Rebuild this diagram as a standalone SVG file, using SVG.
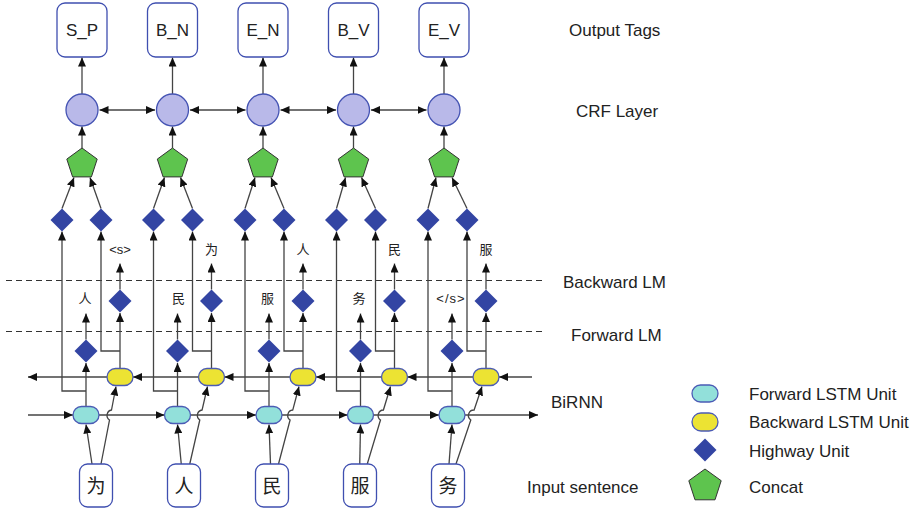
<svg xmlns="http://www.w3.org/2000/svg" xmlns:xlink="http://www.w3.org/1999/xlink" width="924" height="510" viewBox="0 0 924 510">
<defs>
<marker id="ah" viewBox="0 0 9 8" refX="9" refY="4" markerWidth="9" markerHeight="8" markerUnits="userSpaceOnUse" orient="auto-start-reverse"><path d="M0,0 L9,4 L0,8 z" fill="#111"/></marker>
<polygon id="pent" points="0,-16 15.2,-4.9 9.4,12.9 -9.4,12.9 -15.2,-4.9"/>
<polygon id="dia" points="0,-11.5 11.5,0 0,11.5 -11.5,0"/>
<style>
.ln{fill:none;stroke:#444;stroke-width:1.3}
.ar{marker-end:url(#ah)}
.da{marker-start:url(#ah);marker-end:url(#ah)}
.dash{fill:none;stroke:#333;stroke-width:1.2;stroke-dasharray:6 4}
.box{fill:#fff;stroke:#3f4fb0;stroke-width:1.3}
.crf{fill:#b9b9e9;stroke:#4453b3;stroke-width:1.3}
.pen{fill:#5ec44e;stroke:#333;stroke-width:1}
.hw{fill:#3345a3}
.fw{fill:#92e0da;stroke:#4b5bb5;stroke-width:1.3}
.bw{fill:#ece333;stroke:#4b5bb5;stroke-width:1.3}
.t{font-family:"Liberation Sans",Arial,sans-serif;font-size:17px;fill:#222}
.tc{font-family:"Liberation Sans",Arial,sans-serif;font-size:17px;fill:#222;text-anchor:middle}
.s{font-family:"Liberation Sans","Noto Sans CJK SC",sans-serif;font-size:13px;fill:#222;text-anchor:middle}
.cj{font-family:"Noto Sans CJK SC",sans-serif;font-size:19px;fill:#222;text-anchor:middle}
</style>
</defs>
<rect width="924" height="510" fill="#fff"/>

<g id="connectors">
<!-- dashed separators -->
<line class="dash" x1="6" y1="280.5" x2="545" y2="280.5"/>
<line class="dash" x1="6" y1="331.5" x2="545" y2="331.5"/>
<!-- forward LSTM chain -->
<line class="ln ar" x1="28" y1="415" x2="73" y2="415"/>
<line class="ln ar" x1="99" y1="415" x2="164.5" y2="415"/>
<line class="ln ar" x1="190.5" y1="415" x2="256" y2="415"/>
<line class="ln ar" x1="282" y1="415" x2="347.5" y2="415"/>
<line class="ln ar" x1="373.5" y1="415" x2="439" y2="415"/>
<line class="ln ar" x1="465" y1="415" x2="538" y2="415"/>
<!-- backward LSTM chain -->
<line class="ln ar" x1="532" y1="377" x2="499" y2="377"/>
<line class="ln ar" x1="473" y1="377" x2="407.5" y2="377"/>
<line class="ln ar" x1="381.5" y1="377" x2="316" y2="377"/>
<line class="ln ar" x1="290" y1="377" x2="224.5" y2="377"/>
<line class="ln ar" x1="198.5" y1="377" x2="133" y2="377"/>
<line class="ln ar" x1="107" y1="377" x2="28" y2="377"/>
<!-- inputs to LSTMs -->
<line class="ln ar" x1="92" y1="464" x2="86" y2="424.5"/>
<line class="ln ar" x1="181.25" y1="464" x2="177.5" y2="424.5"/>
<line class="ln ar" x1="270.5" y1="464" x2="269" y2="424.5"/>
<line class="ln ar" x1="359.75" y1="464" x2="360.5" y2="424.5"/>
<line class="ln ar" x1="449" y1="464" x2="452" y2="424.5"/>
<path class="ln ar" d="M101,464 L109.5,420 A5.5,5.5 0 0 1 111.5,410 L116,386.5"/>
<path class="ln ar" d="M189.75,464 L199.8,420 A5.5,5.5 0 0 1 202.1,410 L207.5,386.5"/>
<path class="ln ar" d="M278.5,464 L290.1,420 A5.5,5.5 0 0 1 292.8,410 L299,386.5"/>
<path class="ln ar" d="M367.25,464 L380.5,420 A5.5,5.5 0 0 1 383.4,410 L390.5,386.5"/>
<path class="ln ar" d="M456,464 L470.8,420 A5.5,5.5 0 0 1 474.1,410 L482,386.5"/>
<!-- forward LSTM to forward LM highway and top highway -->
<line class="ln ar" x1="86" y1="406.5" x2="86" y2="363"/>
<line class="ln ar" x1="177.5" y1="406.5" x2="177.5" y2="363"/>
<line class="ln ar" x1="269" y1="406.5" x2="269" y2="363"/>
<line class="ln ar" x1="360.5" y1="406.5" x2="360.5" y2="363"/>
<line class="ln ar" x1="452" y1="406.5" x2="452" y2="363"/>
<path class="ln ar" d="M86,391 H62 V231.5"/>
<path class="ln ar" d="M177.5,391 H153.5 V231.5"/>
<path class="ln ar" d="M269,391 H245 V231.5"/>
<path class="ln ar" d="M360.5,391 H336.5 V231.5"/>
<path class="ln ar" d="M452,391 H428 V231.5"/>
<!-- backward LSTM to backward LM highway and top highway -->
<line class="ln ar" x1="120" y1="368.5" x2="120" y2="313"/>
<line class="ln ar" x1="211.5" y1="368.5" x2="211.5" y2="313"/>
<line class="ln ar" x1="303" y1="368.5" x2="303" y2="313"/>
<line class="ln ar" x1="394.5" y1="368.5" x2="394.5" y2="313"/>
<line class="ln ar" x1="486" y1="368.5" x2="486" y2="313"/>
<path class="ln ar" d="M120,351 H101 V231.5"/>
<path class="ln ar" d="M211.5,351 H192.5 V231.5"/>
<path class="ln ar" d="M303,351 H284 V231.5"/>
<path class="ln ar" d="M394.5,351 H375.5 V231.5"/>
<path class="ln ar" d="M486,351 H467 V231.5"/>
<!-- LM predictions -->
<line class="ln ar" x1="86" y1="339.5" x2="86" y2="313.5"/>
<line class="ln ar" x1="177.5" y1="339.5" x2="177.5" y2="313.5"/>
<line class="ln ar" x1="269" y1="339.5" x2="269" y2="313.5"/>
<line class="ln ar" x1="360.5" y1="339.5" x2="360.5" y2="313.5"/>
<line class="ln ar" x1="452" y1="339.5" x2="452" y2="313.5"/>
<line class="ln ar" x1="120" y1="289.5" x2="120" y2="263.5"/>
<line class="ln ar" x1="211.5" y1="289.5" x2="211.5" y2="263.5"/>
<line class="ln ar" x1="303" y1="289.5" x2="303" y2="263.5"/>
<line class="ln ar" x1="394.5" y1="289.5" x2="394.5" y2="263.5"/>
<line class="ln ar" x1="486" y1="289.5" x2="486" y2="263.5"/>
<!-- top highways to concat -->
<line class="ln ar" x1="62" y1="208.5" x2="74" y2="177.5"/>
<line class="ln ar" x1="101" y1="208.5" x2="90" y2="177.5"/>
<line class="ln ar" x1="153.5" y1="208.5" x2="164.5" y2="177.5"/>
<line class="ln ar" x1="192.5" y1="208.5" x2="180.5" y2="177.5"/>
<line class="ln ar" x1="245" y1="208.5" x2="255" y2="177.5"/>
<line class="ln ar" x1="284" y1="208.5" x2="271" y2="177.5"/>
<line class="ln ar" x1="336.5" y1="208.5" x2="345.5" y2="177.5"/>
<line class="ln ar" x1="375.5" y1="208.5" x2="361.5" y2="177.5"/>
<line class="ln ar" x1="428" y1="208.5" x2="436" y2="177.5"/>
<line class="ln ar" x1="467" y1="208.5" x2="452" y2="177.5"/>
<!-- concat to CRF -->
<line class="ln ar" x1="82" y1="148" x2="82" y2="126.5"/>
<line class="ln ar" x1="172.5" y1="148" x2="172.5" y2="126.5"/>
<line class="ln ar" x1="263" y1="148" x2="263" y2="126.5"/>
<line class="ln ar" x1="353.5" y1="148" x2="353.5" y2="126.5"/>
<line class="ln ar" x1="444" y1="148" x2="444" y2="126.5"/>
<!-- CRF to tags -->
<line class="ln ar" x1="82" y1="94" x2="82" y2="57.5"/>
<line class="ln ar" x1="172.5" y1="94" x2="172.5" y2="57.5"/>
<line class="ln ar" x1="263" y1="94" x2="263" y2="57.5"/>
<line class="ln ar" x1="353.5" y1="94" x2="353.5" y2="57.5"/>
<line class="ln ar" x1="444" y1="94" x2="444" y2="57.5"/>
<!-- CRF transitions -->
<line class="ln da" x1="99.5" y1="110" x2="155" y2="110"/>
<line class="ln da" x1="190" y1="110" x2="245.5" y2="110"/>
<line class="ln da" x1="280.5" y1="110" x2="336" y2="110"/>
<line class="ln da" x1="371" y1="110" x2="426.5" y2="110"/>
</g>

<!-- output tags -->
<g id="tag1"><rect class="box" x="57" y="3" width="50" height="54" rx="8"/><text class="tc" x="82" y="36">S_P</text></g>
<g id="tag2"><rect class="box" x="147.5" y="3" width="50" height="54" rx="8"/><text class="tc" x="172.5" y="36">B_N</text></g>
<g id="tag3"><rect class="box" x="238" y="3" width="50" height="54" rx="8"/><text class="tc" x="263" y="36">E_N</text></g>
<g id="tag4"><rect class="box" x="328.5" y="3" width="50" height="54" rx="8"/><text class="tc" x="353.5" y="36">B_V</text></g>
<g id="tag5"><rect class="box" x="419" y="3" width="50" height="54" rx="8"/><text class="tc" x="444" y="36">E_V</text></g>

<!-- CRF nodes -->
<g id="crf1"><circle class="crf" cx="82" cy="110" r="16"/></g>
<g id="crf2"><circle class="crf" cx="172.5" cy="110" r="16"/></g>
<g id="crf3"><circle class="crf" cx="263" cy="110" r="16"/></g>
<g id="crf4"><circle class="crf" cx="353.5" cy="110" r="16"/></g>
<g id="crf5"><circle class="crf" cx="444" cy="110" r="16"/></g>

<!-- concat -->
<g id="concat1"><use href="#pent" class="pen" x="82" y="164"/></g>
<g id="concat2"><use href="#pent" class="pen" x="172.5" y="164"/></g>
<g id="concat3"><use href="#pent" class="pen" x="263" y="164"/></g>
<g id="concat4"><use href="#pent" class="pen" x="353.5" y="164"/></g>
<g id="concat5"><use href="#pent" class="pen" x="444" y="164"/></g>

<!-- top highway units -->
<g id="hwtop1"><use href="#dia" class="hw" x="62" y="220"/><use href="#dia" class="hw" x="101" y="220"/></g>
<g id="hwtop2"><use href="#dia" class="hw" x="153.5" y="220"/><use href="#dia" class="hw" x="192.5" y="220"/></g>
<g id="hwtop3"><use href="#dia" class="hw" x="245" y="220"/><use href="#dia" class="hw" x="284" y="220"/></g>
<g id="hwtop4"><use href="#dia" class="hw" x="336.5" y="220"/><use href="#dia" class="hw" x="375.5" y="220"/></g>
<g id="hwtop5"><use href="#dia" class="hw" x="428" y="220"/><use href="#dia" class="hw" x="467" y="220"/></g>

<!-- backward LM highway units and labels -->
<g id="blm1"><use href="#dia" class="hw" x="120" y="301"/><text class="s" x="120" y="253.5">&lt;s&gt;</text></g>
<g id="blm2"><use href="#dia" class="hw" x="211.5" y="301"/><text class="s" x="211.5" y="253.5">为</text></g>
<g id="blm3"><use href="#dia" class="hw" x="303" y="301"/><text class="s" x="303" y="253.5">人</text></g>
<g id="blm4"><use href="#dia" class="hw" x="394.5" y="301"/><text class="s" x="394.5" y="253.5">民</text></g>
<g id="blm5"><use href="#dia" class="hw" x="486" y="301"/><text class="s" x="486" y="253.5">服</text></g>

<!-- forward LM highway units and labels -->
<g id="flm1"><use href="#dia" class="hw" x="86" y="351"/><text class="s" x="85" y="302.5">人</text></g>
<g id="flm2"><use href="#dia" class="hw" x="177.5" y="351"/><text class="s" x="178.5" y="302.5">民</text></g>
<g id="flm3"><use href="#dia" class="hw" x="269" y="351"/><text class="s" x="267.5" y="302.5">服</text></g>
<g id="flm4"><use href="#dia" class="hw" x="360.5" y="351"/><text class="s" x="359" y="302.5">务</text></g>
<g id="flm5"><use href="#dia" class="hw" x="452" y="351"/><text class="s" x="451" y="302.5" letter-spacing="1">&lt;/s&gt;</text></g>

<!-- backward LSTM -->
<g id="bw1"><rect class="bw" x="107" y="368.5" width="26" height="17" rx="8.5"/></g>
<g id="bw2"><rect class="bw" x="198.5" y="368.5" width="26" height="17" rx="8.5"/></g>
<g id="bw3"><rect class="bw" x="290" y="368.5" width="26" height="17" rx="8.5"/></g>
<g id="bw4"><rect class="bw" x="381.5" y="368.5" width="26" height="17" rx="8.5"/></g>
<g id="bw5"><rect class="bw" x="473" y="368.5" width="26" height="17" rx="8.5"/></g>

<!-- forward LSTM -->
<g id="fw1"><rect class="fw" x="73" y="406.5" width="26" height="17" rx="8.5"/></g>
<g id="fw2"><rect class="fw" x="164.5" y="406.5" width="26" height="17" rx="8.5"/></g>
<g id="fw3"><rect class="fw" x="256" y="406.5" width="26" height="17" rx="8.5"/></g>
<g id="fw4"><rect class="fw" x="347.5" y="406.5" width="26" height="17" rx="8.5"/></g>
<g id="fw5"><rect class="fw" x="439" y="406.5" width="26" height="17" rx="8.5"/></g>

<!-- input characters -->
<g id="in1"><rect class="box" x="79.5" y="464" width="33" height="43" rx="8"/><text class="cj" x="96" y="493">为</text></g>
<g id="in2"><rect class="box" x="167.5" y="464" width="33" height="43" rx="8"/><text class="cj" x="184" y="493">人</text></g>
<g id="in3"><rect class="box" x="255.5" y="464" width="33" height="43" rx="8"/><text class="cj" x="272" y="493">民</text></g>
<g id="in4"><rect class="box" x="343.5" y="464" width="33" height="43" rx="8"/><text class="cj" x="360" y="493">服</text></g>
<g id="in5"><rect class="box" x="431.5" y="464" width="33" height="43" rx="8"/><text class="cj" x="448" y="493">务</text></g>

<!-- layer labels -->
<g id="layer-labels">
<text class="t" x="569" y="36">Output Tags</text>
<text class="t" x="576" y="117">CRF Layer</text>
<text class="t" x="563" y="288">Backward LM</text>
<text class="t" x="571" y="341">Forward LM</text>
<text class="t" x="551" y="408">BiRNN</text>
<text class="t" x="527" y="493">Input sentence</text>
</g>

<!-- legend -->
<g id="legend">
<rect class="fw" x="692" y="385" width="26" height="17" rx="8.5"/>
<rect class="bw" x="692" y="413" width="26" height="18" rx="9"/>
<use href="#dia" class="hw" x="705" y="450"/>
<polygon class="pen" points="705,469 721.2,480.7 715,499.8 695,499.8 688.8,480.7"/>
<text class="t" x="749" y="400">Forward LSTM Unit</text>
<text class="t" x="749" y="428">Backward LSTM Unit</text>
<text class="t" x="749" y="457">Highway Unit</text>
<text class="t" x="749" y="493">Concat</text>
</g>
</svg>
